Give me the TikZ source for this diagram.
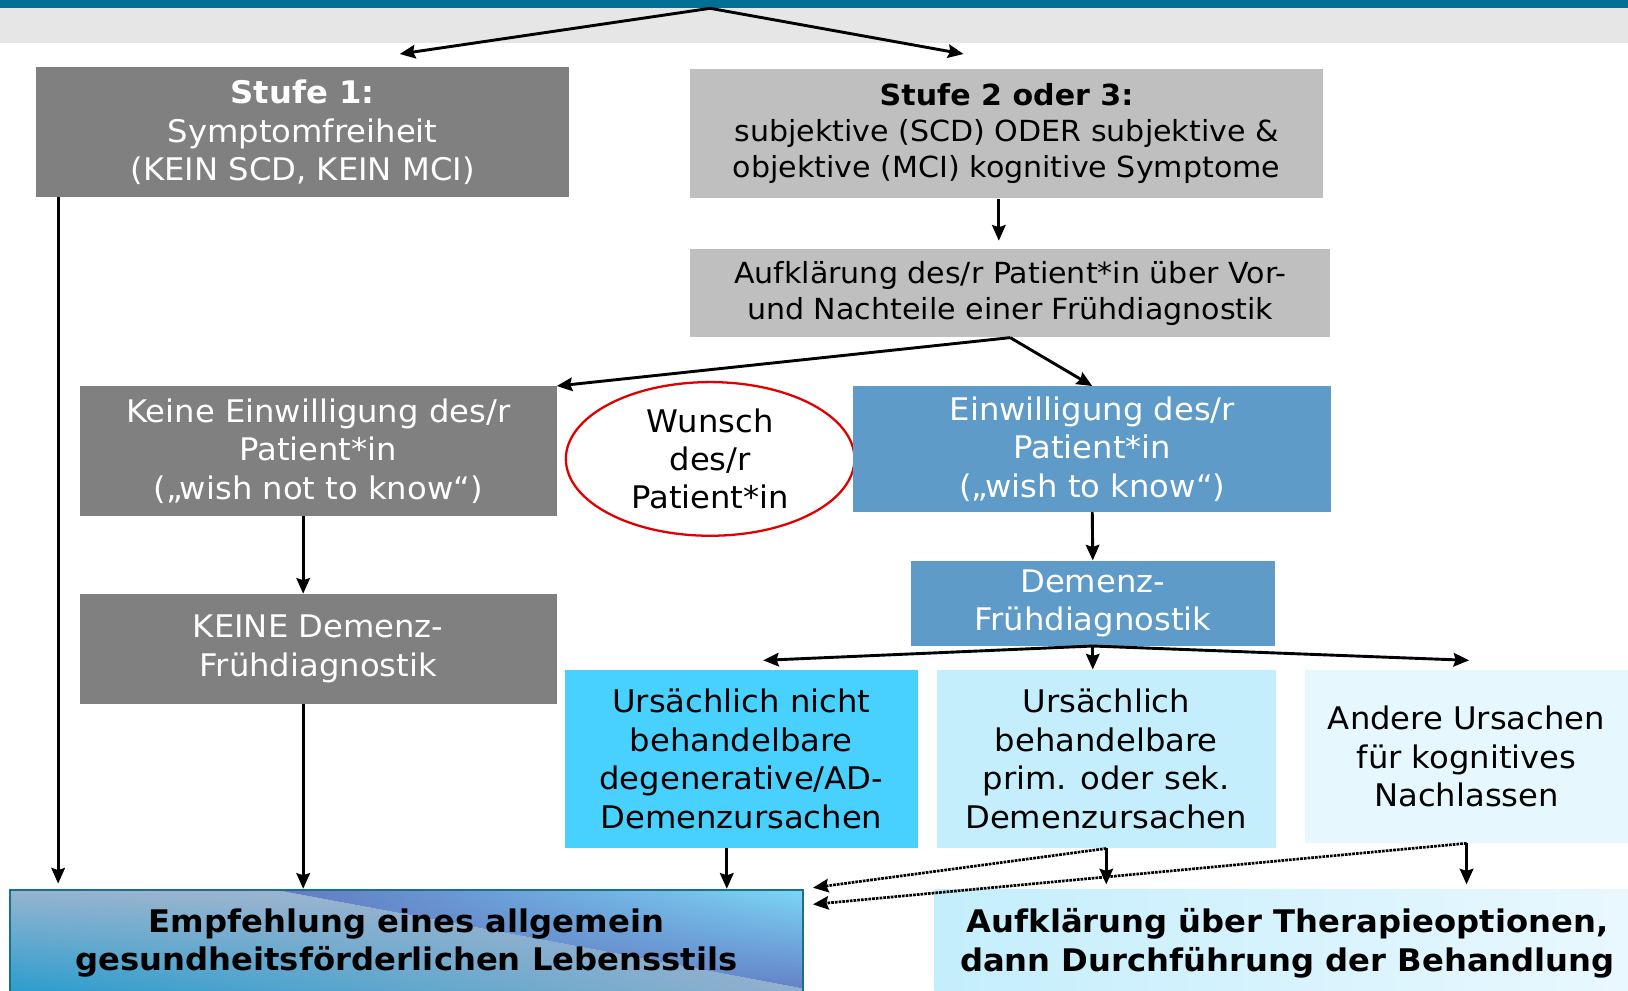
\documentclass[tikz,border=0pt]{standalone}
\usepackage{fontspec}
\setmainfont{DejaVu Sans}[FakeStretch=1.035]
\usetikzlibrary{arrows.meta,shapes.geometric,shadings}

\definecolor{topteal}{RGB}{0,112,150}
\definecolor{bandgrey}{RGB}{230,230,230}
\definecolor{boxdark}{RGB}{128,128,128}
\definecolor{boxlight}{RGB}{191,191,191}
\definecolor{boxblue}{RGB}{94,155,200}
\definecolor{causeA}{RGB}{72,208,254}
\definecolor{causeB}{RGB}{196,238,252}
\definecolor{causeC}{RGB}{230,247,253}
\definecolor{causeD}{RGB}{234,248,254}
\definecolor{wishred}{RGB}{224,0,0}
\definecolor{empfline}{RGB}{26,110,142}
\definecolor{empfUL}{RGB}{150,180,208}
\definecolor{empfUR}{RGB}{168,181,207}
\definecolor{empfLL}{RGB}{10,150,204}
\definecolor{empfLR}{RGB}{140,175,205}
\definecolor{empfRUL}{RGB}{96,122,194}
\definecolor{empfRUR}{RGB}{124,214,247}
\definecolor{empfRLL}{RGB}{100,120,192}
\definecolor{empfRLR}{RGB}{100,130,198}

\begin{document}
\begin{tikzpicture}[x=1pt,y=1pt,yscale=-1,xscale=1,
    box/.style={rectangle, inner sep=0pt, align=center, font=\fontsize{30}{37}\selectfont},
    smallbox/.style={box, font=\fontsize{28}{34.5}\selectfont},
    darkbox/.style={box, fill=boxdark, text=white},
    bluebox/.style={box, fill=boxblue, text=white},
    arr/.style={-{Stealth[length=15pt,width=13pt,inset=2pt]}, line width=2.8pt},
    dotarr/.style={-{Stealth[length=15pt,width=13pt,inset=2pt]}, line width=2.6pt, densely dotted}
]
    \useasboundingbox (0,0) rectangle (1568,954);

    %Shape: Rectangle [header bar]
    \fill [topteal] (0,0) rectangle (1568,8);
    \fill [bandgrey] (0,8) rectangle (1568,41);

    %Shape: Rectangle [Stufe 1]
    \node (stufeA) at (291.5,127.5) [darkbox, minimum width=513pt, minimum height=125pt] {\textbf{Stufe 1:}\\Symptomfreiheit\\(KEIN SCD, KEIN MCI)};
    %Shape: Rectangle [Stufe 2 oder 3]
    \node (stufeB) at (969.5,128.5) [smallbox, fill=boxlight, minimum width=609pt, minimum height=125pt] {\textbf{Stufe 2 oder 3:}\\subjektive (SCD) ODER subjektive \&\\objektive (MCI) kognitive Symptome};
    %Shape: Rectangle [Aufklaerung]
    \node (aufkl) at (973,282.5) [smallbox, fill=boxlight, minimum width=616pt, minimum height=85pt] {Aufklärung des/r Patient*in über Vor-\\und Nachteile einer Frühdiagnostik};

    %Shape: Rectangle [keine Einwilligung]
    \node (keinEinw) at (306.5,434.5) [darkbox, minimum width=459pt, minimum height=125pt] {Keine Einwilligung des/r\\Patient*in\\(„wish not to know“)};
    %Shape: Ellipse [Wunsch]
    \node (wunsch) at (684,442) [box, ellipse, draw=wishred, line width=2.2pt, fill=white, minimum width=278pt, minimum height=148pt] {Wunsch\\des/r\\Patient*in};
    %Shape: Rectangle [Einwilligung]
    \node (einw) at (1052,432.5) [bluebox, minimum width=460pt, minimum height=121pt] {Einwilligung des/r\\Patient*in\\(„wish to know“)};

    %Shape: Rectangle [Demenz-Fruehdiagnostik]
    \node (demenz) at (1052.5,581) [bluebox, minimum width=351pt, minimum height=82pt] {Demenz-\\Frühdiagnostik};
    %Shape: Rectangle [KEINE Demenz-Fruehdiagnostik]
    \node (keineDem) at (306.5,625) [darkbox, minimum width=459pt, minimum height=106pt] {KEINE Demenz-\\Frühdiagnostik};

    %Shape: Rectangle [Ursachen]
    \node (causeOne) at (714,731) [box, fill=causeA, minimum width=340pt, minimum height=172pt] {Ursächlich nicht\\behandelbare\\degenerative/AD-\\Demenzursachen};
    \node (causeTwo) at (1065.5,731) [box, fill=causeB, minimum width=327pt, minimum height=172pt] {Ursächlich\\behandelbare\\prim. oder sek.\\Demenzursachen};
    \node (causeThree) at (1412.5,728.5) [box, fill=causeC, minimum width=311pt, minimum height=167pt] {Andere Ursachen\\für kognitives\\Nachlassen};

    %Shape: Rectangle [Empfehlung, shaded]
    \begin{scope}
        \clip (10,857) -- (265,857) -- (773,952) -- (773,985) -- (10,985) -- cycle;
        \shade [upper left=empfUL, upper right=empfUR, lower left=empfLL, lower right=empfLR] (10,857) rectangle (773,985);
    \end{scope}
    \begin{scope}
        \clip (265,857) -- (773,857) -- (773,952) -- cycle;
        \shade [upper left=empfRUL, upper right=empfRUR, lower left=empfRLL, lower right=empfRLR] (265,857) rectangle (773,952);
    \end{scope}
    \node (empf) at (391.5,908.5) [box, draw=empfline, line width=2pt, minimum width=763pt, minimum height=103pt, font=\fontsize{30}{37}\selectfont\bfseries] {Empfehlung eines allgemein\\gesundheitsförderlichen Lebensstils};
    %Shape: Rectangle [Therapie]
    \node (therapie) at (1240,908.5) [box, left color=causeB, right color=causeD, minimum width=680pt, minimum height=103pt, font=\fontsize{30}{37}\selectfont\bfseries] {Aufklärung über Therapieoptionen,\\dann Durchführung der Behandlung};

    % Connectors
    \coordinate (apex) at (684,8);
    \coordinate (stufeAin) at (385,52);
    \coordinate (stufeBin) at (928,52);
    \coordinate (laneAufkl) at (962,0);
    \coordinate (laneOuter) at (56,0);
    \coordinate (laneLeft) at (292,0);
    \coordinate (laneCause) at (700,0);
    \coordinate (causeOneIn) at (735,636);
    \coordinate (causeThreeIn) at (1415,636);
    \coordinate (dotInA) at (783,855);
    \coordinate (dotInB) at (783,871);

    \draw [arr] (apex) -- (stufeAin);
    \draw [arr] (apex) -- (stufeBin);
    \draw [arr, shorten >=8pt] (stufeB.south -| laneAufkl) -- (aufkl.north -| laneAufkl);
    \draw [arr] (aufkl.south) -- (keinEinw.north east);
    \draw [arr] (aufkl.south) -- (einw.north);
    \draw [arr] (einw.south) -- (demenz.north);
    \draw [arr] (demenz.south) -- (causeOneIn);
    \draw [arr] (demenz.south) -- (demenz.south |- causeTwo.north);
    \draw [arr] (demenz.south) -- (causeThreeIn);
    \draw [arr] (keinEinw.south -| laneLeft) -- (keineDem.north -| laneLeft);
    \draw [arr] (keineDem.south -| laneLeft) -- (empf.north -| laneLeft);
    \draw [arr, shorten >=5pt] (stufeA.south -| laneOuter) -- (empf.north -| laneOuter);
    \draw [arr] (causeOne.south -| laneCause) -- (empf.north -| laneCause);
    \draw [arr, shorten >=5pt] (causeTwo.south) -- (therapie.north -| causeTwo.south);
    \draw [arr, shorten >=5pt] (causeThree.south) -- (therapie.north -| causeThree.south);
    \draw [dotarr] (causeTwo.south) -- (dotInA);
    \draw [dotarr] (causeThree.south) -- (dotInB);

\end{tikzpicture}
\end{document}
